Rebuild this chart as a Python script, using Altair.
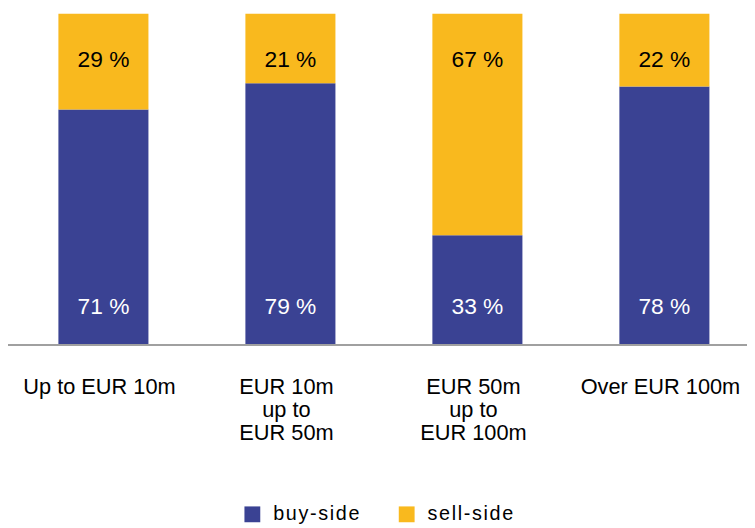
import altair as alt
import pandas as pd

categories = ["Up to EUR 10m", "EUR 10m|up to|EUR 50m", "EUR 50m|up to|EUR 100m", "Over EUR 100m"]
buy_side = [71, 79, 33, 78]
sell_side = [29, 21, 67, 22]
series = ["buy-side", "sell-side"]
colors = ["#3a4293", "#f9b91e"]

rows = []
for c, b, s in zip(categories, buy_side, sell_side):
    rows.append({"cat": c, "series": "buy-side", "value": b, "ord": 0, "label": f"{b} %"})
    rows.append({"cat": c, "series": "sell-side", "value": s, "ord": 1, "label": f"{s} %"})
df = pd.DataFrame(rows)

FONT = "Liberation Sans"


def xenc():
    return alt.X("cat:N", sort=categories,
                 scale=alt.Scale(type="band", paddingInner=0.5185, paddingOuter=0.23, align=0.563),
                 axis=alt.Axis(title=None, labelAngle=0, domain=False, ticks=False,
                               labelFont=FONT, labelFontSize=22, labelColor="#000000",
                               labelPadding=33, labelLineHeight=23, labelOffset=-4,
                               labelExpr="split(datum.label, '|')"))


bars = alt.Chart(df).mark_bar().encode(
    x=xenc(),
    y=alt.Y("value:Q", stack="zero", scale=alt.Scale(domain=[0, 100], nice=False), axis=None),
    color=alt.Color("series:N", scale=alt.Scale(domain=series, range=colors),
                    legend=alt.Legend(title=None, orient="none", direction="horizontal",
                                      legendX=235, legendY=496,
                                      symbolType="square", symbolSize=256, symbolStrokeWidth=0,
                                      labelFont=FONT, labelFontSize=20, labelColor="#000000",
                                      labelOffset=11, columnPadding=37,
                                      labelExpr="join(split(datum.label, ''), '\u200a')")),
    order=alt.Order("ord:Q"),
)

sell_labels = alt.Chart(df[df.series == "sell-side"]).mark_text(
    font=FONT, fontSize=23, color="#000000", baseline="middle"
).encode(x=xenc(), y=alt.value(47), text="label:N")

buy_labels = alt.Chart(df[df.series == "buy-side"]).mark_text(
    font=FONT, fontSize=23, color="#ffffff", baseline="middle"
).encode(x=xenc(), y=alt.value(297), text="label:N")

axis_line = alt.Chart(df).mark_rule(color="#a0a0a0", strokeWidth=1.5).encode(
    x=alt.value(-4), x2=alt.value(745), y=alt.value(334.5)
)

chart = alt.layer(bars, sell_labels, buy_labels, axis_line).properties(
    width=745, height=334,
    autosize=alt.AutoSizeParams(type="none"),
    padding={"left": 2, "top": 3, "right": 0, "bottom": 183},
).configure_view(stroke=None)

chart.save("out.html", embed_options={"renderer": "svg", "actions": False})
